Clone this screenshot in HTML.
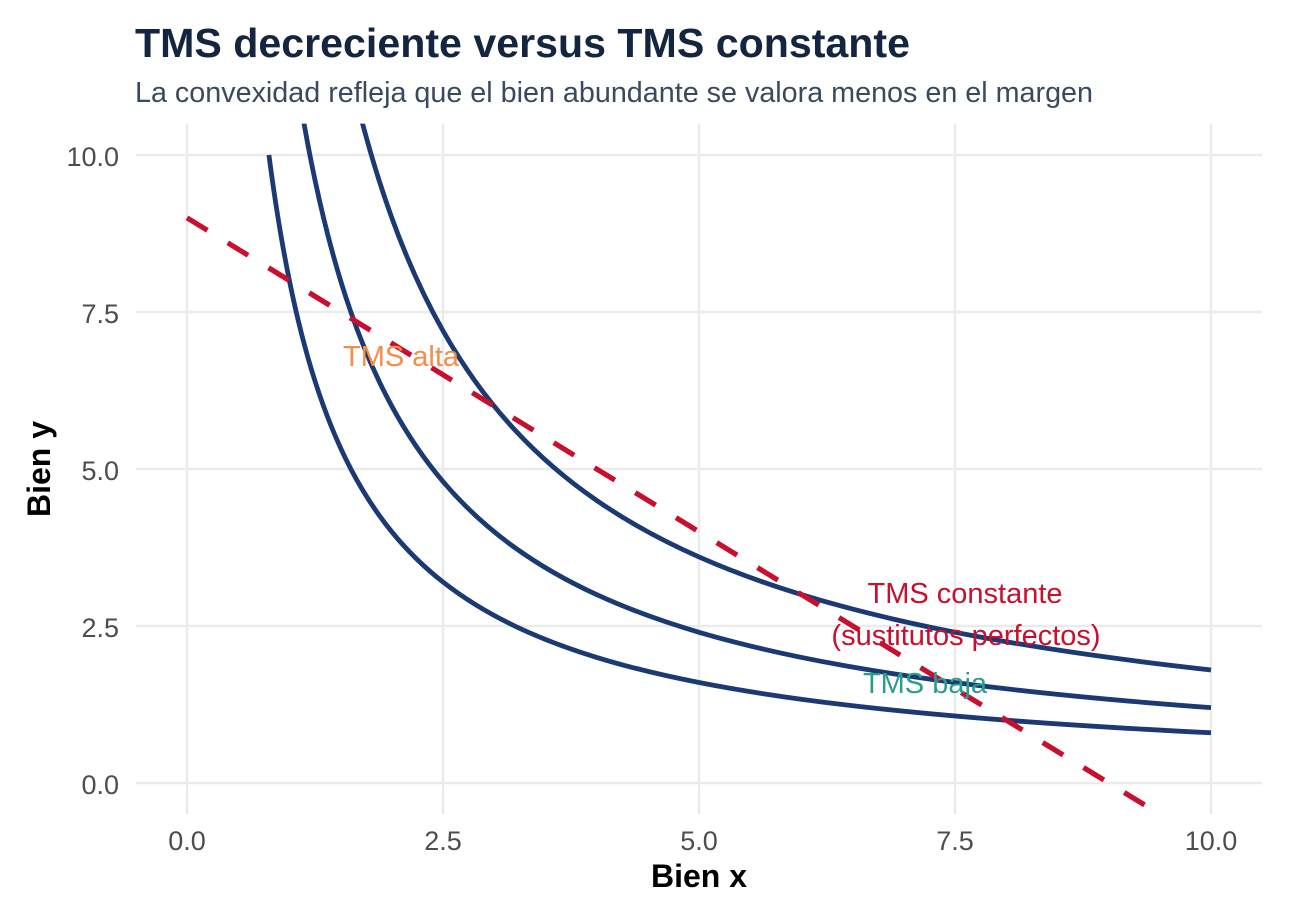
<!DOCTYPE html>
<html><head><meta charset="utf-8"><style>
html,body{margin:0;padding:0;background:#fff;}
svg{display:block;font-family:"Liberation Sans",Arial,sans-serif;}
</style></head><body>
<svg width="1305" height="921" viewBox="0 0 1305 921" xmlns="http://www.w3.org/2000/svg">
<defs><clipPath id="p"><rect x="135.8" y="123.6" width="1126.2" height="690.8"/></clipPath></defs>
<rect width="1305" height="921" fill="#fff"/>
<g stroke="#EBEBEB" stroke-width="2.4" fill="none">
<line x1="135.8" y1="783" x2="1262" y2="783"/>
<line x1="135.8" y1="626" x2="1262" y2="626"/>
<line x1="135.8" y1="469" x2="1262" y2="469"/>
<line x1="135.8" y1="312" x2="1262" y2="312"/>
<line x1="135.8" y1="155" x2="1262" y2="155"/>
<line x1="187" y1="123.6" x2="187" y2="814.4"/>
<line x1="443" y1="123.6" x2="443" y2="814.4"/>
<line x1="699" y1="123.6" x2="699" y2="814.4"/>
<line x1="955" y1="123.6" x2="955" y2="814.4"/>
<line x1="1211" y1="123.6" x2="1211" y2="814.4"/>
</g>
<g clip-path="url(#p)" fill="none" stroke="#1B3A73" stroke-width="4.8" stroke-linejoin="round">
<path d="M268.92,155 C275.75,207.33 282.57,247.11 289.4,280.6 C297.93,322.47 306.47,354.29 315,381.08 C326.95,418.59 338.89,446.11 350.84,469 C364.49,495.16 378.15,515.05 391.8,531.8 C408.87,552.73 425.93,568.64 443,582.04 C466.89,600.79 490.79,614.55 514.68,626 C541.99,639.08 569.29,649.03 596.6,657.4 C630.73,667.87 664.87,675.82 699,682.52 C746.79,691.9 794.57,698.78 842.36,704.5 C896.97,711.04 951.63,716.01 1006.2,720.2 C1074.47,725.43 1142.73,729.41 1211,732.76"/>
<path d="M289.4,29.4 C297.93,92.2 306.47,139.93 315,180.12 C326.95,236.39 338.89,277.66 350.84,312 C364.49,351.25 378.15,381.08 391.8,406.2 C408.87,437.6 425.93,461.46 443,481.56 C466.89,509.69 490.79,530.33 514.68,547.5 C541.99,567.12 569.29,582.04 596.6,594.6 C630.73,610.3 664.87,622.23 699,632.28 C746.79,646.35 794.57,656.67 842.36,665.25 C896.97,675.06 951.63,682.52 1006.2,688.8 C1074.47,696.65 1142.73,702.62 1211,707.64"/>
<path d="M315,-121.32 C326.95,-36.91 338.89,24.99 350.84,76.5 C364.49,135.37 378.15,180.12 391.8,217.8 C408.87,264.9 425.93,300.69 443,330.84 C466.89,373.04 490.79,403.99 514.68,429.75 C541.99,459.19 569.29,481.56 596.6,500.4 C630.73,523.95 664.87,541.85 699,556.92 C746.79,578.02 794.57,593.5 842.36,606.37 C896.97,621.09 951.63,632.28 1006.2,641.7 C1074.47,653.48 1142.73,662.42 1211,669.96"/>
</g>
<line clip-path="url(#p)" x1="187" y1="217.8" x2="1144.5" y2="804.9" stroke="#C8102E" stroke-width="5.2" stroke-dasharray="23.9 23.9" stroke-linecap="butt"/>
<g font-size="29">
<text x="401" y="366" text-anchor="middle" fill="#F28E4B">TMS alta</text>
<text x="965" y="603" text-anchor="middle" fill="#C8102E">TMS constante</text>
<text x="966" y="645" text-anchor="middle" fill="#C8102E">(sustitutos perfectos)</text>
<text x="925" y="693" text-anchor="middle" fill="#2A9D8F">TMS baja</text>
</g>
<g font-size="27" fill="#4D4D4D" text-anchor="end">
<text x="119" y="794">0.0</text>
<text x="119" y="637">2.5</text>
<text x="119" y="480">5.0</text>
<text x="119" y="323">7.5</text>
<text x="119" y="166">10.0</text>
</g>
<g font-size="27" fill="#4D4D4D" text-anchor="middle">
<text x="187" y="850">0.0</text>
<text x="443" y="850">2.5</text>
<text x="699" y="850">5.0</text>
<text x="955" y="850">7.5</text>
<text x="1211" y="850">10.0</text>
</g>
<text x="699" y="887" text-anchor="middle" font-size="32" font-weight="bold" fill="#000">Bien x</text>
<text transform="translate(50,469) rotate(-90)" text-anchor="middle" font-size="32" font-weight="bold" fill="#000">Bien y</text>
<text x="135" y="57" font-size="41" font-weight="bold" fill="#14253F" textLength="775" lengthAdjust="spacingAndGlyphs">TMS decreciente versus TMS constante</text>
<text x="135" y="102" font-size="28.8" fill="#3A4A5E" textLength="958" lengthAdjust="spacingAndGlyphs">La convexidad refleja que el bien abundante se valora menos en el margen</text>
</svg>
</body></html>
